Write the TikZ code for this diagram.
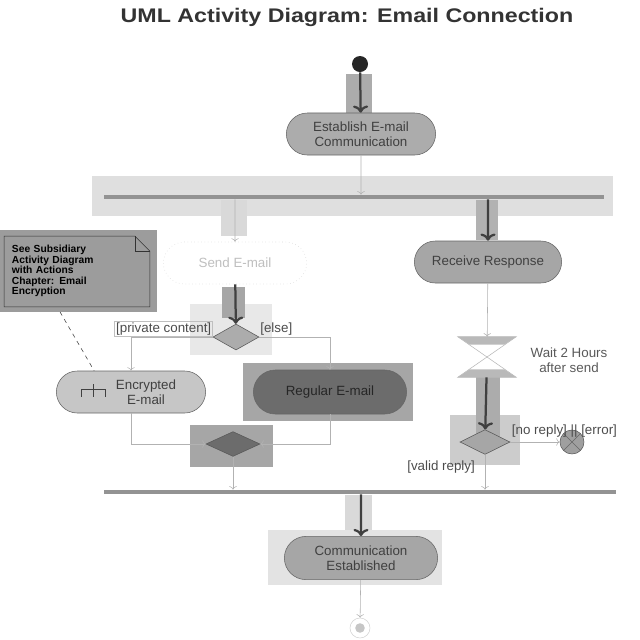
\documentclass[tikz,border=0pt]{standalone}
\usepackage{fontspec}
\setmainfont{Liberation Sans}
\usetikzlibrary{arrows.meta,shapes.geometric,shapes.misc}

\begin{document}
\begin{tikzpicture}[x=0.025cm,y=-0.025cm,
    font=\fontsize{9.5}{11}\selectfont,
    action/.style={rounded rectangle,draw=gray!80!black,fill=gray!65,text=black!75,
      minimum width=3.8cm,minimum height=1.05cm,inner sep=1pt,align=center},
    decision/.style={diamond,draw=gray!70!black,fill=gray!65,inner sep=0pt,
      minimum width=1.15cm,minimum height=0.65cm},
    bar/.style={rectangle,fill=gray!85,inner sep=0pt,minimum height=3pt},
    guard/.style={text=black!70,inner sep=1pt},
    thinflow/.style={->,gray!60,thin},
    thickflow/.style={->,black!75,line width=1.6pt}]

  \useasboundingbox (0,0) rectangle (640,640);

  % Selection boxes behind the flows
  \fill[gray!25] (92,176) rectangle (613,216);
  \fill[gray!65] (346,74) rectangle (372,113);
  \fill[gray!30] (221,200) rectangle (247,236);
  \fill[gray!60] (476,200) rectangle (498,240);
  \fill[gray!18] (190,304) rectangle (272,355);
  \fill[gray!70] (222,287) rectangle (245,318);
  \fill[gray!70] (243,363) rectangle (413,421);
  \fill[gray!70] (190,425) rectangle (273,467);
  \fill[gray!40] (450,415) rectangle (520,465);
  \fill[gray!65] (476,377) rectangle (500,440);
  \fill[gray!30] (345,495) rectangle (372,535);
  \fill[gray!22] (268,530) rectangle (442,585);

  % Title
  \node[font=\bfseries\fontsize{14}{16}\selectfont,text=black!80,xscale=1.18] (title) at (347,17)
    {UML Activity Diagram: Email Connection};

  % Nodes
  \node[circle,fill=black!85,minimum size=0.4cm,inner sep=0pt] (start) at (360,64) {};
  \node[action] (establish) at (361,134) {Establish E-mail\\Communication};
  \node[bar,minimum width=12.5cm] (fork) at (354,197) {};
  \node[action,fill=white,draw=gray!30,dotted,text=gray!50,minimum width=3.65cm] (send) at (235,263) {Send E-mail};
  \node[action,fill=gray!70,minimum width=3.75cm] (receive) at (488,262) {Receive Response};
  \node[decision] (dec1) at (236,337) {};
  \node[action,fill=gray!45] (encrypted) at (131,392) {};
  \node[text=black!75,align=center] (enctext) at (146,392) {Encrypted\\E-mail};
  \node[action,fill=gray!85!black,text=black!85,minimum width=3.9cm,minimum height=1.1cm] (regular) at (330,392) {Regular E-mail};
  \node[decision,fill=gray!85!black,minimum width=1.35cm,minimum height=0.62cm] (merge) at (233,444) {};
  \node[minimum width=1.45cm,minimum height=1.0cm,inner sep=0pt] (wait) at (487,357) {};
  \node[text=black!65,align=center] (waitlabel) at (569,360) {Wait 2 Hours\\after send};
  \node[decision,fill=gray!70,minimum width=1.25cm,minimum height=0.62cm] (dec2) at (485,442) {};
  \node[circle,draw=gray!70!black,fill=gray!75,minimum size=0.6cm,inner sep=0pt] (flowend) at (572,442) {};
  \node[bar,minimum width=12.8cm] (join) at (360,492) {};
  \node[action,fill=gray!70,minimum width=3.9cm,minimum height=1.08cm] (established) at (361,558) {Communication\\Established};
  \node[circle,draw=gray!35,minimum size=0.5cm,inner sep=0pt] (final) at (360,628) {};
  \fill[gray!45] (final) circle (0.12cm);

  % Note with folded corner
  \node[fill=gray!78,minimum width=3.93cm,minimum height=2.03cm,text width=3.3cm,inner xsep=0.3cm,
    align=left,font=\bfseries\fontsize{7.3}{7.4}\selectfont] (note) at (78,271)
    {See Subsidiary\\Activity Diagram\\with Actions\\Chapter: Email\\Encryption};
  \draw[gray!40!black] ([shift={(5,6)}]note.north west) -- ([shift={(-22,6)}]note.north east)
    -- ([shift={(-7,21)}]note.north east) -- ([shift={(-7,-5)}]note.south east)
    -- ([shift={(5,-5)}]note.south west) -- cycle;
  \draw[gray!40!black] ([shift={(-22,6)}]note.north east) -- ([shift={(-22,21)}]note.north east)
    -- ([shift={(-7,21)}]note.north east);
  \draw[dashed,gray!50!black] ([xshift=-0.45cm]note.south) -- (encrypted.150);

  % Rake icon
  \draw[gray!50!black] ([shift={(25,-3)}]encrypted.west) -- ++(24,0) ++(-24,0) -- ++(0,8)
    ++(12,-8) -- ++(0,8) ++(12,-8) -- ++(0,8) ++(-12,-8) -- ++(0,-5);

  % Time event
  \draw[gray!55] (wait.north west) -- (wait.north east)
    -- (wait.south west) -- (wait.south east) -- cycle;
  \fill[gray!55] (wait.north west) -- (wait.north east) -- ([shift={(-12,8)}]wait.north east)
    -- ([shift={(12,8)}]wait.north west) -- cycle;
  \fill[gray!55] (wait.south west) -- (wait.south east) -- ([shift={(-12,-8)}]wait.south east)
    -- ([shift={(12,-8)}]wait.south west) -- cycle;

  % Flow final
  \draw[black!60] (flowend.45) -- (flowend.225) (flowend.135) -- (flowend.315);

  % Flows
  \draw[thickflow] (start) -- (establish);
  \draw[thinflow] (establish) -- (establish |- fork.north);
  \draw[thinflow] (send |- fork.south) -- (send);
  \draw[thickflow] (receive |- fork.south) -- (receive);
  \draw[thickflow] (send) -- (dec1);
  \draw[thinflow] (dec1.west) -| node[guard,draw=gray!50,above,pos=0.3] {[private content]} (encrypted.north);
  \draw[thinflow] (dec1.east) -| node[guard,above,pos=0.12] {[else]} (regular.north);
  \draw[thinflow] (encrypted.south) |- (merge.west);
  \draw[thinflow] (regular.south) |- (merge.east);
  \draw[thinflow] (merge) -- (merge |- join.north);
  \draw[thinflow] (receive) -- (wait);
  \draw[thickflow] (wait) -- (dec2);
  \draw[thinflow] (dec2) -- node[guard,above right,pos=0,yshift=2pt] {[no reply] || [error]} (flowend);
  \draw[thinflow] (dec2) -- node[guard,left,pos=0.35,xshift=-6pt] {[valid reply]} (dec2 |- join.north);
  \draw[thickflow] (established |- join.south) -- (established);
  \draw[thinflow] (established) -- (final);

\end{tikzpicture}
\end{document}
